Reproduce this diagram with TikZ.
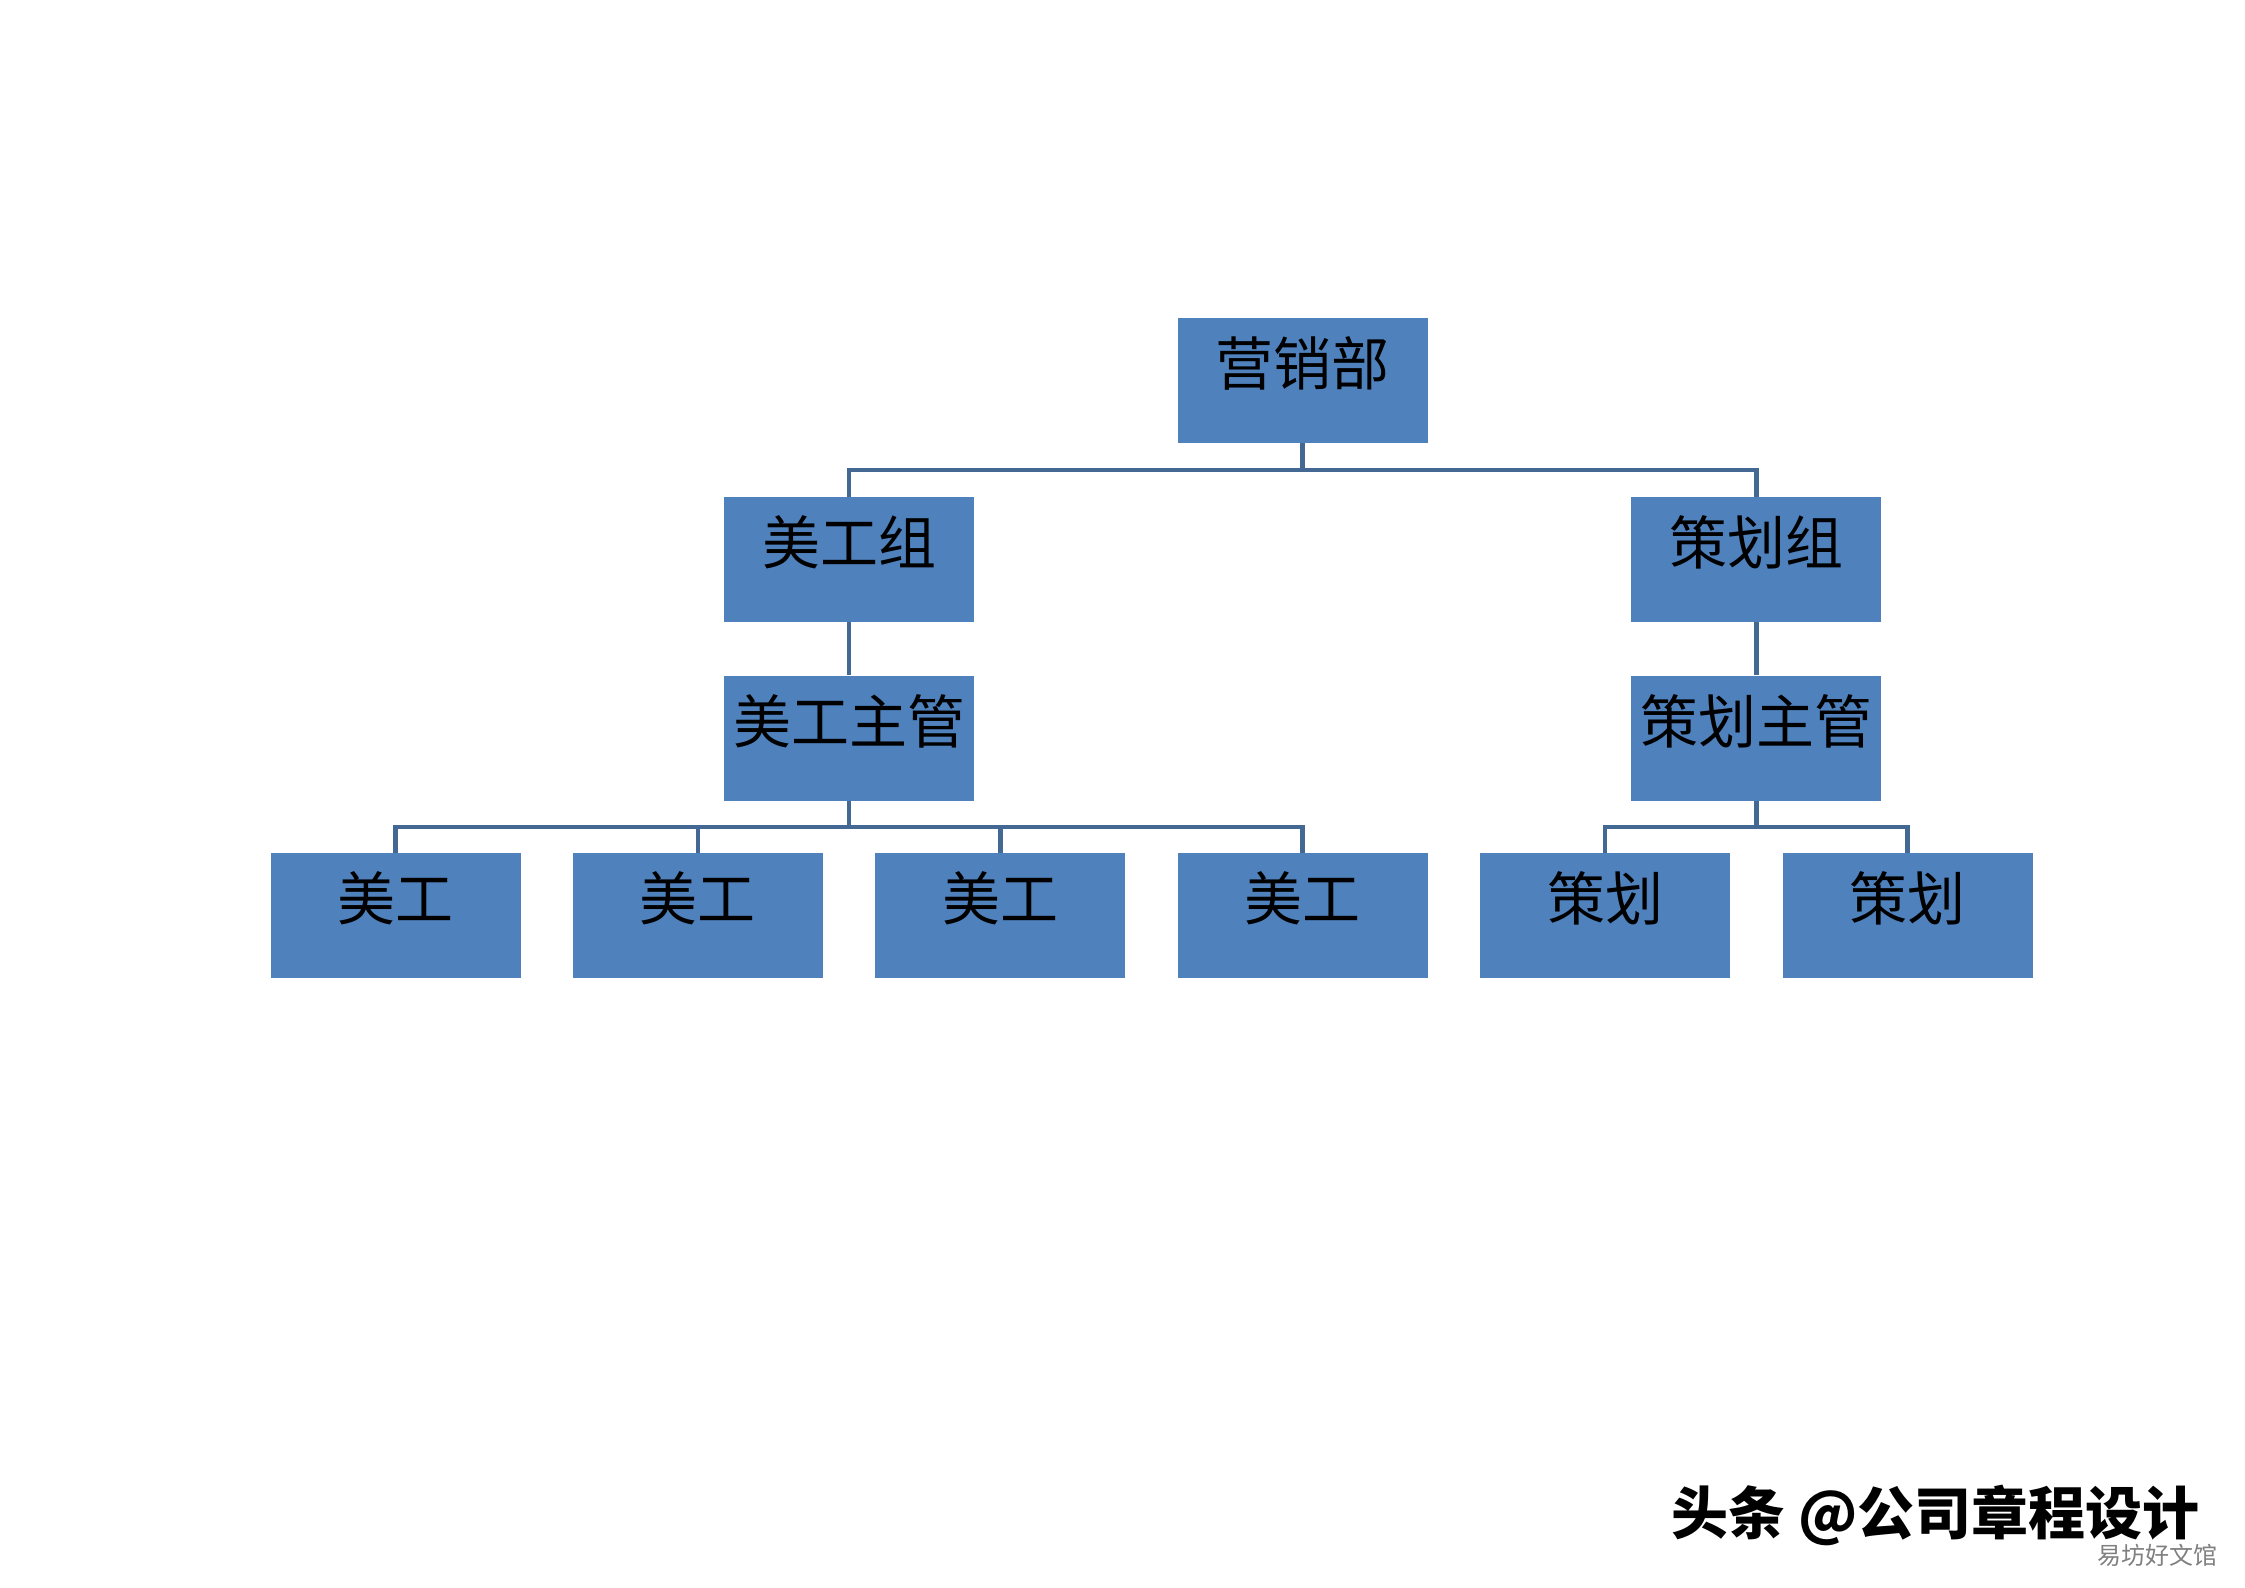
\documentclass[tikz,border=0pt]{standalone}
\usepackage{fontspec}
\newfontfamily\cjk{Noto Sans CJK SC}
\usepackage{tikz}
\usetikzlibrary{positioning,calc}
\definecolor{boxblue}{RGB}{79,129,189}
\definecolor{lineblue}{RGB}{68,104,148}

\begin{document}
\begin{tikzpicture}[x=1pt,y=1pt, node distance=52pt,
  box/.style={rectangle, fill=boxblue, minimum width=250pt, minimum height=125pt, inner sep=0pt,
    font=\cjk\fontsize{58}{58}\selectfont, text height=40pt, text depth=30pt},
  link/.style={draw=lineblue, line width=4.5pt}]
  \fill[white] (0,0) rectangle (2245,1587);
  \useasboundingbox (0,0) rectangle (2245,1587);
  % bottom row
  \node[box] (mg1) at (395.5,671.5) {美工};
  \node[box, right=of mg1] (mg2) {美工};
  \node[box, right=of mg2] (mg3) {美工};
  \node[box, right=of mg3] (mg4) {美工};
  \node[box, right=of mg4] (ch1) {策划};
  \node[box, right=of ch1] (ch2) {策划};
  % leaders and groups
  \coordinate (mgmid) at ($(mg2.north)!0.5!(mg3.north)$);
  \coordinate (chmid) at ($(ch1.north)!0.5!(ch2.north)$);
  \node[box, above=52pt of mgmid] (mgzg) {美工主管};
  \node[box, above=52pt of chmid] (chzg) {策划主管};
  \node[box, above=53pt of mgzg] (mgz) {美工组};
  \node[box, above=53pt of chzg] (chz) {策划组};
  \coordinate (topmid) at (mg4 |- mgz.north);
  \node[box, above=54pt of topmid] (yx) {营销部};
  % connectors
  \draw[link] (yx.south) -- ++(0,-27) -| (mgz.north);
  \draw[link] (yx.south) -- ++(0,-27) -| (chz.north);
  \draw[link] (mgz) -- (mgzg);
  \draw[link] (chz) -- (chzg);
  \draw[link] (mgzg.south) -- ++(0,-26) -| (mg1.north);
  \draw[link] (mgzg.south) -- ++(0,-26) -| (mg2.north);
  \draw[link] (mgzg.south) -- ++(0,-26) -| (mg3.north);
  \draw[link] (mgzg.south) -- ++(0,-26) -| (mg4.north);
  \draw[link] (chzg.south) -- ++(0,-26) -| (ch1.north);
  \draw[link] (chzg.south) -- ++(0,-26) -| (ch2.north);
  % watermark
  \node[anchor=east, inner sep=0pt, font=\cjk\bfseries\fontsize{57}{57}\selectfont] (wm) at (2200,72) {头条 @公司章程设计};
  \node[anchor=east, inner sep=0pt, text=gray, font=\cjk\fontsize{24}{24}\selectfont] (wm2) at (2218,32) {易坊好文馆};
\end{tikzpicture}
\end{document}
